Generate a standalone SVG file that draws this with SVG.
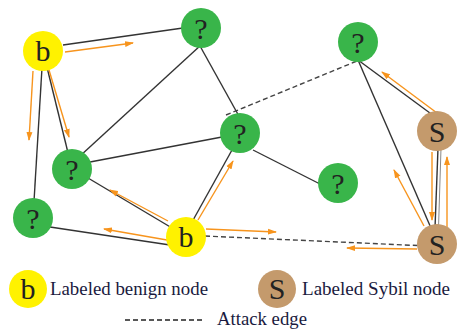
<svg xmlns="http://www.w3.org/2000/svg" width="457" height="332" viewBox="0 0 457 332">
<defs>
<marker id="ah" markerWidth="9" markerHeight="7" refX="8" refY="3.5" orient="auto" markerUnits="userSpaceOnUse">
<path d="M0,0.5 L9,3.5 L0,6.5 Z" fill="#f7941d"/>
</marker>
</defs>
<rect width="457" height="332" fill="#fff"/>
<g id="connectors" fill="none" stroke-width="1.4">
<g stroke="#333">
<line x1="63" y1="45" x2="183" y2="28"/>
<line x1="43" y1="51" x2="33" y2="218"/>
<line x1="43" y1="51" x2="72" y2="169"/>
<line x1="201" y1="45" x2="80" y2="156"/>
<line x1="200" y1="46" x2="240" y2="118"/>
<line x1="90" y1="162" x2="222" y2="137"/>
<line x1="253" y1="150" x2="320" y2="184"/>
<line x1="232" y1="150" x2="192" y2="222"/>
<line x1="88" y1="178" x2="172" y2="228"/>
<line x1="50" y1="227" x2="170" y2="245"/>
<line x1="358" y1="60" x2="434" y2="116"/>
<line x1="358" y1="60" x2="431" y2="228"/>
<line x1="438" y1="148" x2="435" y2="228"/>
</g>
<line stroke="#888" stroke-width="1" x1="441" y1="148" x2="438.5" y2="228"/>
<g stroke="#444" stroke-dasharray="5 3">
<line x1="226" y1="115" x2="357" y2="61"/>
<line x1="205" y1="236" x2="428" y2="246"/>
</g>
<g stroke="#f7941d" marker-end="url(#ah)">
<line x1="65" y1="52" x2="133" y2="43"/>
<line x1="33" y1="71" x2="29" y2="140"/>
<line x1="49" y1="70" x2="69" y2="137"/>
<line x1="168" y1="221" x2="110" y2="190"/>
<line x1="167" y1="240" x2="104" y2="229"/>
<line x1="198" y1="220" x2="233" y2="161"/>
<line x1="206" y1="229" x2="276" y2="232"/>
<line x1="417" y1="249" x2="347" y2="248"/>
<line x1="424" y1="226" x2="394" y2="170"/>
<line x1="437" y1="113" x2="382" y2="72"/>
<line x1="432" y1="152" x2="432" y2="220"/>
<line x1="447" y1="227" x2="447" y2="157"/>
</g>
</g>
<g font-family="Liberation Serif" font-size="30" text-anchor="middle">
<g id="b1"><circle fill="#fff200" cx="43" cy="51" r="20"/><text fill="#222" x="43" y="61">b</text></g>
<g id="q1"><circle fill="#39b54a" cx="201" cy="28" r="20"/><text fill="#222" x="201" y="39">?</text></g>
<g id="q2"><circle fill="#39b54a" cx="358" cy="42" r="20"/><text fill="#222" x="358" y="53">?</text></g>
<g id="q3"><circle fill="#39b54a" cx="240" cy="133" r="20"/><text fill="#222" x="240" y="144">?</text></g>
<g id="s1"><circle fill="#c49a6c" cx="437" cy="131" r="20"/><text fill="#222" x="437" y="142">S</text></g>
<g id="q4"><circle fill="#39b54a" cx="72" cy="169" r="20"/><text fill="#222" x="72" y="180">?</text></g>
<g id="q5"><circle fill="#39b54a" cx="33" cy="218" r="20"/><text fill="#222" x="33" y="229">?</text></g>
<g id="b2"><circle fill="#fff200" cx="186" cy="237" r="20"/><text fill="#222" x="186" y="247">b</text></g>
<g id="q6"><circle fill="#39b54a" cx="338" cy="183" r="20"/><text fill="#222" x="338" y="194">?</text></g>
<g id="s2"><circle fill="#c49a6c" cx="437" cy="244" r="20"/><text fill="#222" x="437" y="255">S</text></g>
<g id="legend">
<circle fill="#fff200" cx="28" cy="289" r="19"/><text fill="#222" x="28" y="299">b</text>
<circle fill="#c49a6c" cx="277" cy="289" r="19"/><text fill="#222" x="277" y="299">S</text>
<text x="50" y="295" font-size="18.5" fill="#1a1a40" text-anchor="start" textLength="158" lengthAdjust="spacingAndGlyphs">Labeled benign node</text>
<text x="302" y="295" font-size="18.5" fill="#1a1a40" text-anchor="start" textLength="148" lengthAdjust="spacingAndGlyphs">Labeled Sybil node</text>
<line x1="125" y1="320" x2="202" y2="320" stroke="#222" stroke-width="1.4" stroke-dasharray="5 3"/>
<text x="217" y="325" font-size="18.5" fill="#1a1a40" text-anchor="start" textLength="90" lengthAdjust="spacingAndGlyphs">Attack edge</text>
</g>
</g>
</svg>
